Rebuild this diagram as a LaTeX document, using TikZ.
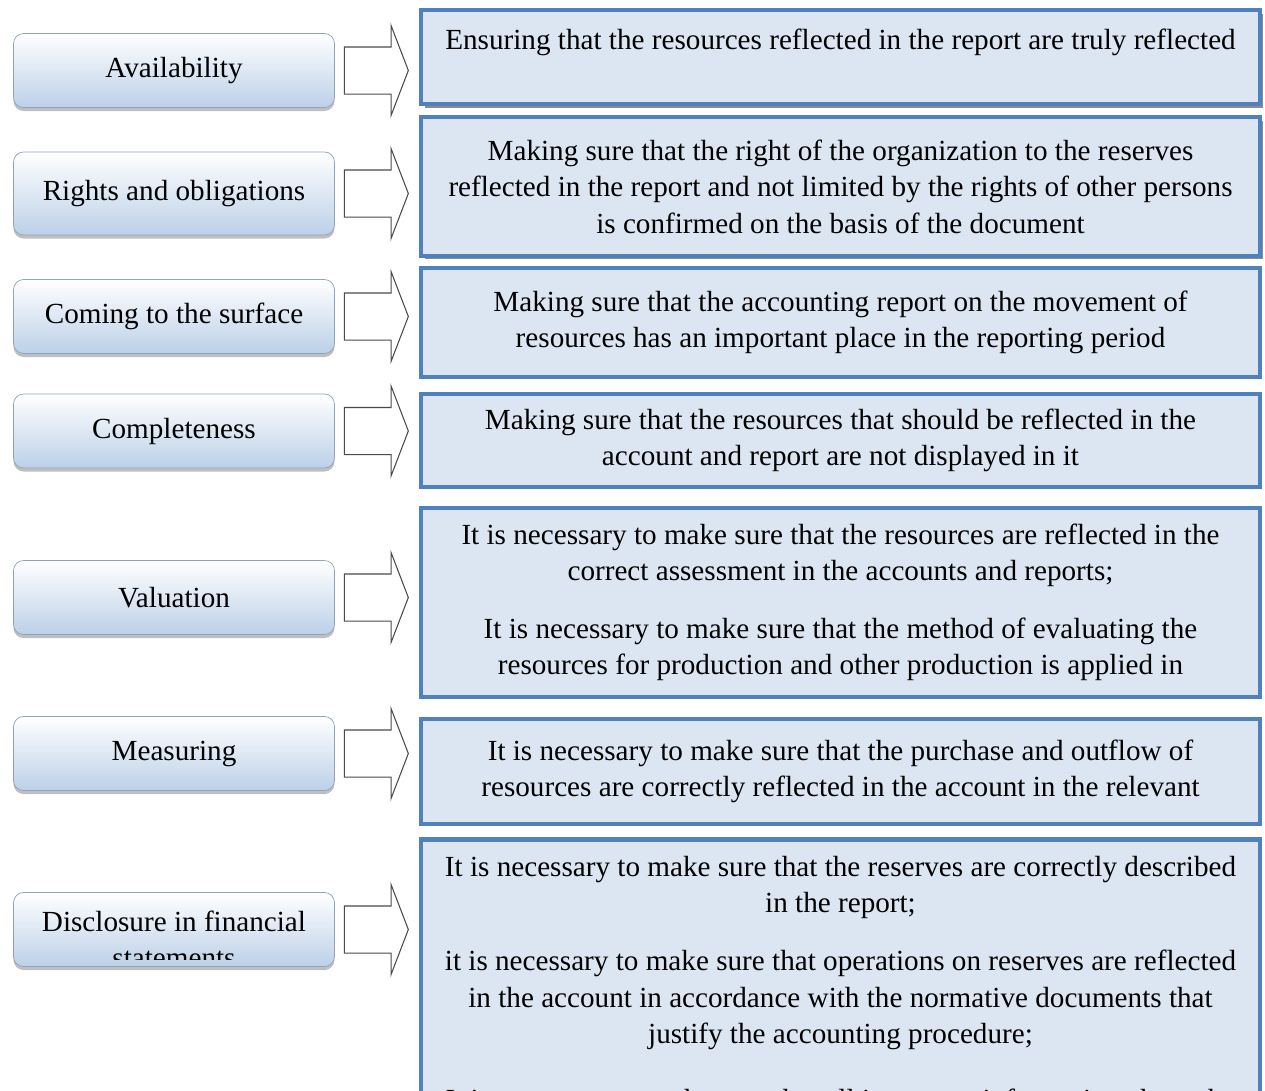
\documentclass[tikz,border=0pt]{standalone}
\usepackage{fontspec}
\setmainfont{Liberation Serif}
\usepackage{tikz}
\usetikzlibrary{positioning,shapes.arrows,shadows}
\definecolor{boxblue}{HTML}{4F81BD}
\definecolor{paleblue}{HTML}{DCE6F2}
\definecolor{critblue}{HTML}{BCD0E8}
\definecolor{critedge}{HTML}{8FA3BD}
\definecolor{arredge}{HTML}{4A4A4A}

\begin{document}
\begin{tikzpicture}[x=0.02cm,y=-0.02cm,
			crit/.style={draw=critedge,top color=white,bottom color=critblue,rounded corners=0.2cm,minimum width=6.42cm,minimum height=1.48cm,align=center,font=\fontsize{16.6}{20.7}\selectfont,drop shadow={shadow xshift=0pt,shadow yshift=-2pt,opacity=0.5}},
			desc/.style={draw=boxblue,line width=0.09cm,fill=paleblue,minimum width=16.78cm,align=center,font=\fontsize{16.6}{20.7}\selectfont},
			shd/.style={drop shadow={shadow xshift=0.07cm,shadow yshift=-0.07cm,fill=black!45,opacity=1}},
			arr/.style={single arrow,draw=arredge,fill=white,semithick,minimum height=1.28cm,inner xsep=0pt,inner ysep=0.46cm,single arrow head extend=0.43cm,single arrow tip angle=138}
			]
			\useasboundingbox (0,0) rectangle (1265,1090);
			\clip (0,0) rectangle (1265,1090);
			\node[crit] (l1) at (174,70.5) {Availability};
			\node[crit,minimum height=1.66cm] (l2) at (174,193.5) {Rights and obligations};
			\node[crit] (l3) at (174,316.5) {Coming to the surface};
			\node[crit] (l4) at (174,431) {Completeness};
			\node[crit] (l5) at (174,597.5) {Valuation};
			\node[crit] (l6) at (174,753.5) {Measuring};
			\node[crit,path picture={\clip (path picture bounding box.north west) rectangle ([yshift=0.15cm]path picture bounding box.south east);
				\node[align=center,font=\fontsize{16.6}{20.7}\selectfont] at ([yshift=-0.2cm]path picture bounding box.center) {Disclosure in financial\\statements};}] (l7) at (174,929.5) {};
			\node[arr,right=0.18cm of l1,anchor=tail] (a1) {};
			\node[arr,right=0.18cm of l2,anchor=tail] (a2) {};
			\node[arr,right=0.18cm of l3,anchor=tail] (a3) {};
			\node[arr,right=0.18cm of l4,anchor=tail] (a4) {};
			\node[arr,right=0.18cm of l5,anchor=tail] (a5) {};
			\node[arr,right=0.18cm of l6,anchor=tail] (a6) {};
			\node[arr,right=0.18cm of l7,anchor=tail] (a7) {};
			\node[desc,shd,minimum height=1.88cm] (r1) at (840.5,57) {Ensuring that the resources reflected in the report are truly reflected\\ \mbox{}};
			\node[desc,shd,minimum height=2.78cm] (r2) at (840.5,186.5) {Making sure that the right of the organization to the reserves\\reflected in the report and not limited by the rights of other persons\\is confirmed on the basis of the document};
			\node[desc,minimum height=2.18cm] (r3) at (840.5,322.5) {Making sure that the accounting report on the movement of\\resources has an important place in the reporting period};
			\node[desc,minimum height=1.86cm] (r4) at (840.5,440.5) {Making sure that the resources that should be reflected in the\\account and report are not displayed in it};
			\node[desc,minimum height=3.78cm] (r5) at (840.5,602.5) {It is necessary to make sure that the resources are reflected in the\\correct assessment in the accounts and reports;\\[0.42cm]It is necessary to make sure that the method of evaluating the\\resources for production and other production is applied in};
			\node[desc,minimum height=2.1cm] (r6) at (840.5,771.5) {It is necessary to make sure that the purchase and outflow of\\resources are correctly reflected in the account in the relevant};
			\node[desc,anchor=north,inner ysep=0.33cm] (r7) at (840.5,837) {It is necessary to make sure that the reserves are correctly described\\in the report;\\[0.44cm]it is necessary to make sure that operations on reserves are reflected\\in the account in accordance with the normative documents that\\justify the accounting procedure;\\[0.6cm]It is necessary to make sure that all important information about the};
		\end{tikzpicture}
\end{document}
